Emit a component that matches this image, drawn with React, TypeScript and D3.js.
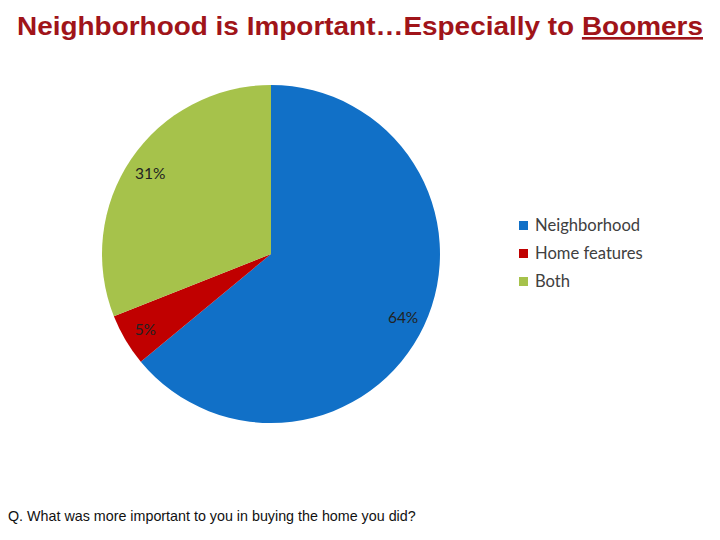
import React, { useRef, useEffect } from 'react';
import * as d3 from 'd3';

const categories = ['Neighborhood', 'Home features', 'Both'];
const shares = [64, 5, 31];
const colors = ['#1170c7', '#c00000', '#a6c24b'];

const TITLE = 'Neighborhood is Important…Especially to ';
const TITLE_UNDERLINED = 'Boomers';
const NOTE = 'Q. What was more important to you in buying the home you did?';

function App() {
  const ref = useRef<SVGSVGElement>(null);
  const width = 720;
  const height = 540;

  useEffect(() => {
    const svg = d3.select(ref.current);
    svg.selectAll('*').remove();

    svg.append('rect').attr('width', width).attr('height', height).attr('fill', '#fff');

    // title
    const title = svg
      .append('text')
      .attr('x', 17)
      .attr('y', 35)
      .attr('font-family', '"Liberation Sans", Arial, sans-serif')
      .attr('font-weight', 'bold')
      .attr('font-size', 26)
      .attr('textLength', 686)
      .attr('lengthAdjust', 'spacingAndGlyphs')
      .attr('fill', '#a01419');
    title.append('tspan').text(TITLE);
    title.append('tspan').attr('text-decoration', 'underline').text(TITLE_UNDERLINED);

    // pie
    const cx = 271;
    const cy = 254;
    const r = 169;
    const data = categories.map((c, i) => ({ name: c, value: shares[i], color: colors[i] }));
    const pie = d3
      .pie<{ name: string; value: number; color: string }>()
      .sort(null)
      .value((d) => d.value);
    const arc = d3.arc<d3.PieArcDatum<any>>().innerRadius(0).outerRadius(r);
    const labelArc = d3.arc<d3.PieArcDatum<any>>().innerRadius(146).outerRadius(146);

    const g = svg.append('g').attr('transform', `translate(${cx},${cy})`);
    const arcs = pie(data);
    g.selectAll('path')
      .data(arcs)
      .enter()
      .append('path')
      .attr('d', arc)
      .attr('fill', (d) => d.data.color);

    g.selectAll('text.lbl')
      .data(arcs)
      .enter()
      .append('text')
      .attr('class', 'lbl')
      .attr('x', (d) => labelArc.centroid(d)[0])
      .attr('y', (d) => labelArc.centroid(d)[1] + 7)
      .attr('text-anchor', 'middle')
      .attr('font-family', 'Lato, "Open Sans", sans-serif')
      .attr('font-size', 15.5)
      .attr('fill', '#222')
      .text((d) => `${d.data.value}%`);

    // legend
    const legend = svg
      .append('g')
      .attr('transform', 'translate(519,226)')
      .selectAll('g')
      .data(data)
      .enter()
      .append('g')
      .attr('transform', (d, i) => `translate(0,${i * 28})`);
    legend.append('rect').attr('x', 0).attr('y', -5).attr('width', 9).attr('height', 9).attr('fill', (d) => d.color);
    legend
      .append('text')
      .attr('x', 16)
      .attr('y', 5)
      .attr('font-family', 'Lato, "Open Sans", sans-serif')
      .attr('font-size', 16.6)
      .attr('fill', '#404040')
      .text((d) => d.name);

    // footnote
    svg
      .append('text')
      .attr('x', 8)
      .attr('y', 521)
      .attr('font-family', '"Liberation Sans", Arial, sans-serif')
      .attr('font-size', 14.3)
      .attr('fill', '#111')
      .text(NOTE);
  }, []);

  return <svg ref={ref} width={width} height={height} style={{ position: 'absolute', left: 0, top: 0 }}></svg>;
}

export default App;
